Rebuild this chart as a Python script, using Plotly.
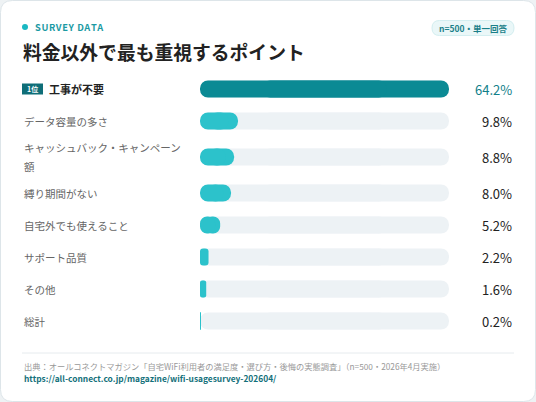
import plotly.graph_objects as go

# --- data ---
labels = ["工事が不要", "データ容量の多さ", "キャッシュバック・キャンペーン\n額",
          "縛り期間がない", "自宅外でも使えること", "サポート品質", "その他", "総計"]
values = [64.2, 9.8, 8.8, 8.0, 5.2, 2.2, 1.6, 0.2]
rank_badge = "1位"

eyebrow = "SURVEY DATA"
title = "料金以外で最も重視するポイント"
sample_note = "n=500・単一回答"
source = "出典：オールコネクトマガジン「自宅WiFi利用者の満足度・選び方・後悔の実態調査」（n=500・2026年4月実施）"
url = "https://all-connect.co.jp/magazine/wifi-usagesurvey-202604/"

W, H = 536, 402
FONT = "Noto Sans CJK JP"


def px(x):
    return x / W


def py(y):
    return 1 - y / H


def rounded_rect(x0, y0, x1, y1, r):
    """rounded rect path in paper coords, args in pixels"""
    rx, ry = r / W, r / H
    X0, X1, Y0, Y1 = px(x0), px(x1), py(y0), py(y1)
    return (f"M{X0+rx},{Y0} L{X1-rx},{Y0} Q{X1},{Y0} {X1},{Y0-ry} "
            f"L{X1},{Y1+ry} Q{X1},{Y1} {X1-rx},{Y1} L{X0+rx},{Y1} "
            f"Q{X0},{Y1} {X0},{Y1+ry} L{X0},{Y0-ry} Q{X0},{Y0} {X0+rx},{Y0} Z")


# row centres: taller rows for wrapped labels
row_y = []
y = 89
prev_h = None
for lab in labels:
    h = 32 + 8 * (lab.count("\n"))
    if prev_h is not None:
        y += (prev_h + h) / 2
    row_y.append(y)
    prev_h = h

vmax = max(values)
fill_colors = ["#0b8a94"] + ["#2cc2cb"] * (len(values) - 1)


def pill(vals, colors):
    # plotly only rounds the tip of a bar, so each pill is two overlapping
    # bars: one growing right, one growing left
    right = go.Bar(x=[v * 0.75 for v in vals], base=[v * 0.25 for v in vals], y=row_y,
                   orientation="h", width=17,
                   marker=dict(color=colors, cornerradius=8.5, line_width=0), hoverinfo="skip")
    left = go.Bar(x=[-v * 0.75 for v in vals], base=[v * 0.75 for v in vals], y=row_y,
                  orientation="h", width=17,
                  marker=dict(color=colors, cornerradius=8.5, line_width=0), hoverinfo="skip")
    return [right, left]


fig = go.Figure()
fig.add_traces(pill([vmax] * len(values), "#edf2f5"))
fig.add_traces(pill(values, fill_colors))

shapes = [
    dict(type="path", xref="paper", yref="paper", path=rounded_rect(0.5, 0.5, 535.5, 401.5, 12),
         fillcolor="white", line=dict(color="#dde5e9", width=1), layer="below"),
    dict(type="circle", xref="paper", yref="paper", x0=px(22), x1=px(28), y0=py(24), y1=py(30),
         fillcolor="#1ab8c2", line_width=0),
    dict(type="path", xref="paper", yref="paper", path=rounded_rect(432, 20.5, 514, 35.5, 7.5),
         fillcolor="#eaf7f8", line=dict(color="#d3eef0", width=1)),
    dict(type="line", xref="paper", yref="paper", x0=px(22), x1=px(514), y0=py(353), y1=py(353),
         line=dict(color="#e6ebee", width=1)),
    dict(type="rect", xref="paper", yref="y", x0=px(22), x1=px(43), y0=row_y[0] - 5.5, y1=row_y[0] + 5.5,
         fillcolor="#0f6e78", line_width=0),
]

ann = [
    dict(text="\u200a".join(eyebrow), x=px(33), y=py(27), xanchor="left", yanchor="middle",
         font=dict(size=9.3, color="#1a9aa3", weight="bold")),
    dict(text=title, x=px(21), y=py(51), xanchor="left", yanchor="middle",
         font=dict(size=18.8, color="#222", weight="bold")),
    dict(text=sample_note, x=px(473), y=py(28), xanchor="center", yanchor="middle",
         font=dict(size=8.5, color="#1a7f88", weight="bold")),
    dict(text=source, x=px(22), y=py(366), xanchor="left", yanchor="middle",
         font=dict(size=8.25, color="#999")),
    dict(text=url, x=px(22), y=py(378), xanchor="left", yanchor="middle",
         font=dict(size=8.4, color="#13707a", weight="bold")),
    dict(text=rank_badge, x=px(32.5), y=row_y[0], yref="y", xanchor="center", yanchor="middle",
         font=dict(size=7, color="white", weight="bold")),
]

for i, (lab, v, yc) in enumerate(zip(labels, values, row_y)):
    lines = lab.split("\n")
    for j, line in enumerate(lines):
        ly = yc + (j - (len(lines) - 1) / 2) * 19
        if i == 0:
            ann.append(dict(text=line, x=px(47), y=ly, yref="y", xanchor="left", yanchor="middle",
                            font=dict(size=11, color="#222", weight="bold")))
        else:
            ann.append(dict(text=line, x=px(22), y=ly, yref="y", xanchor="left", yanchor="middle",
                            font=dict(size=10.5, color="#666")))
    ann.append(dict(text=f"{v:.1f}%", x=px(514), y=yc, yref="y", xanchor="right", yanchor="middle",
                    font=dict(size=13, color="#11808a" if i == 0 else "#222")))

for a in ann:
    a.setdefault("xref", "paper")
    a.setdefault("yref", "paper")
    a["showarrow"] = False

fig.update_layout(
    width=W, height=H,
    margin=dict(l=0, r=0, t=0, b=0),
    paper_bgcolor="#eef2f4",
    plot_bgcolor="rgba(0,0,0,0)",
    font=dict(family=FONT),
    barmode="overlay",
    showlegend=False,
    xaxis=dict(domain=[px(200), px(449)], range=[0, vmax], visible=False, fixedrange=True),
    yaxis=dict(domain=[0, 1], range=[H, 0], visible=False, fixedrange=True),
    shapes=shapes,
    annotations=ann,
)

# the page's default body margin would push the card 8px off the window
fig.write_html("out.html", config={"displayModeBar": False},
               post_script="document.body.style.margin='0';")
